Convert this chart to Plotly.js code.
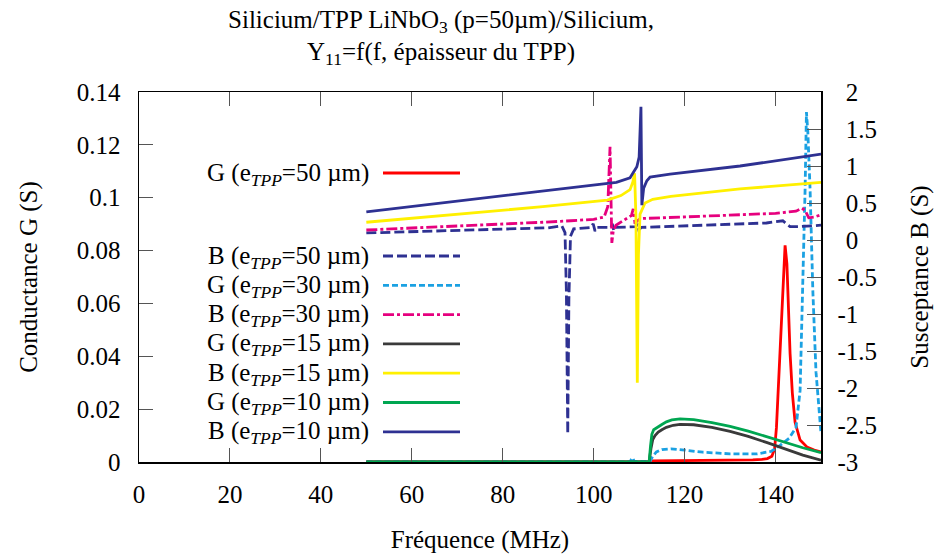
<!DOCTYPE html>
<html><head><meta charset="utf-8">
<script src="https://cdn.plot.ly/plotly-3.0.1.min.js"></script>
<style>html,body{margin:0;padding:0;background:#fff}#chart{width:941px;height:554px}</style>
</head><body><div id="chart"></div>
<script>
// ---------- data ----------
const f_G50 = [50, 112, 112.6, 120, 130, 135, 137, 138.2, 139.2, 139.8, 140.2, 140.6, 141.0, 141.5, 141.8, 142.1, 142.5, 142.9, 143.2, 143.7, 144.3, 145.4, 146.9, 148.5, 150];
const G50   = [0, 0, 0.0004, 0.0005, 0.0006, 0.0008, 0.0010, 0.0013, 0.0022, 0.0050, 0.013, 0.027, 0.041, 0.060, 0.073, 0.082, 0.075, 0.055, 0.041, 0.026, 0.015, 0.0083, 0.0057, 0.0045, 0.0038];

const f_B50 = [50, 70, 90, 93.0, 93.7, 94.0, 94.3, 94.55, 94.9, 95.6, 99.5, 99.9, 100.3, 100.8, 103.8, 104.1, 104.4, 104.8, 109.3, 109.6, 109.9, 110.5, 120, 130, 138, 141.6, 142.3, 143.2, 145, 150];
const B50   = [0.095, 0.13, 0.165, 0.19, 0.10, -0.7, -2.62, -0.8, 0.05, 0.15, 0.17, 0.22, 0.12, 0.17, 0.17, 0.22, 0.13, 0.17, 0.18, 0.22, 0.14, 0.17, 0.19, 0.21, 0.23, 0.26, 0.22, 0.18, 0.18, 0.20];

const f_G30 = [50, 108.0, 108.3, 108.6, 108.9, 112.4, 113.0, 113.8, 115, 117, 120, 124, 130, 136, 139, 141, 143, 144.5, 145.4, 146.0, 146.5, 146.8, 147.1, 147.6, 148.2, 148.9, 149.5, 150];
const G30   = [0, 0, 0.0010, 0.0016, 0.0002, 0.0002, 0.0022, 0.0038, 0.0047, 0.0050, 0.0045, 0.0037, 0.0031, 0.0031, 0.0040, 0.0063, 0.0090, 0.0130, 0.027, 0.065, 0.103, 0.1324, 0.125, 0.103, 0.065, 0.034, 0.020, 0.011];

const f_B30 = [50, 70, 88.8, 95, 100, 102.3, 103.1, 103.6, 103.8, 104.0, 104.3, 104.9, 107.5, 108.3, 108.7, 109.1, 109.6, 110.3, 115, 130, 140, 144.5, 145.8, 146.5, 147.3, 148.5, 150];
const B30   = [0.135, 0.185, 0.24, 0.26, 0.28, 0.31, 0.45, 1.26, 0.6, -0.04, 0.12, 0.2, 0.3, 0.33, 0.42, 0.22, 0.26, 0.29, 0.3, 0.33, 0.36, 0.39, 0.43, 0.4, 0.3, 0.31, 0.34];

const f_G15 = [50, 112.2, 112.6, 113.0, 113.5, 114.2, 115, 116, 117.5, 119, 122, 126, 130, 134, 138, 142, 146, 150];
const G15   = [0, 0, 0.005, 0.0085, 0.0100, 0.0113, 0.0122, 0.0131, 0.0139, 0.0142, 0.0141, 0.0131, 0.0116, 0.0097, 0.0074, 0.0049, 0.0026, 0.0007];

const f_B15 = [50, 70, 88.8, 103, 106, 108, 108.6, 109.0, 109.3, 109.6, 109.85, 110.2, 111.3, 113, 117, 132.2, 150];
const B15   = [0.24, 0.35, 0.45, 0.54, 0.6, 0.68, 0.78, 0.9, 0.3, -1.93, -0.2, 0.35, 0.5, 0.55, 0.59, 0.69, 0.78];

const f_G10 = [50, 112.2, 112.5, 112.8, 113.2, 114, 115, 116, 117.2, 119, 122, 126, 130, 134, 138, 142, 146, 150];
const G10   = [0, 0, 0.006, 0.0105, 0.0122, 0.0132, 0.0142, 0.0152, 0.0159, 0.0163, 0.0160, 0.0149, 0.0135, 0.0117, 0.0095, 0.0074, 0.0054, 0.0035];

const f_B10 = [50, 70, 91, 100, 105, 108, 109.5, 110.0, 110.4, 110.6, 111.0, 111.7, 112.4, 116.8, 132.2, 150];
const B10   = [0.38, 0.525, 0.676, 0.74, 0.78, 0.84, 0.99, 1.12, 1.80, 0.47, 0.7, 0.8, 0.85, 0.89, 1.0, 1.16];

const seriesNames = [
  'G (e<sub><i>TPP</i></sub>=50 µm)', 'B (e<sub><i>TPP</i></sub>=50 µm)',
  'G (e<sub><i>TPP</i></sub>=30 µm)', 'B (e<sub><i>TPP</i></sub>=30 µm)',
  'G (e<sub><i>TPP</i></sub>=15 µm)', 'B (e<sub><i>TPP</i></sub>=15 µm)',
  'G (e<sub><i>TPP</i></sub>=10 µm)', 'B (e<sub><i>TPP</i></sub>=10 µm)'
];
const seriesX = [f_G50, f_B50, f_G30, f_B30, f_G15, f_B15, f_G10, f_B10];
const seriesY = [G50, B50, G30, B30, G15, B15, G10, B10];
const seriesAxis = ['y', 'y2', 'y', 'y2', 'y', 'y2', 'y', 'y2'];

const xTickVals = [0, 20, 40, 60, 80, 100, 120, 140];
const gTickVals = [0, 0.02, 0.04, 0.06, 0.08, 0.1, 0.12, 0.14];
const gTickText = ['0', '0.02', '0.04', '0.06', '0.08', '0.1', '0.12', '0.14'];
const bTickVals = [-3, -2.5, -2, -1.5, -1, -0.5, 0, 0.5, 1, 1.5, 2];
const bTickText = ['-3', '-2.5', '-2', '-1.5', '-1', '-0.5', '\u20040', '\u20040.5', '\u20041', '\u20041.5', '\u20042'];

// ---------- styles ----------
const colors = ['#FF0000', '#2E3192', '#1BA1E2', '#E6007E', '#3A3A3A', '#FFF000', '#00A651', '#2E3192'];
const dashes = ['solid', '10px,4px', '6px,3px', '11px,3px,3px,3px', 'solid', 'solid', 'solid', 'solid'];
const LW = 2.8;
const FONT = "'Liberation Serif', 'DejaVu Serif', serif";
const FS = 25;

const traces = seriesX.map((xs, i) => ({
  type: 'scatter', mode: 'lines', x: xs, y: seriesY[i], yaxis: seriesAxis[i],
  name: seriesNames[i], line: {color: colors[i], width: LW, dash: dashes[i]},
  hoverinfo: 'skip', showlegend: false
}));

// ---------- gnuplot-style key (text right-aligned, sample on the right) ----------
const plotTop = 92, plotBot = 462, plotL = 139, plotR = 821;
const toPY = py => (plotBot - py) / (plotBot - plotTop);
const toPX = px => (px - plotL) / (plotR - plotL);
const keyRows = [173, 256, 285.3, 314.6, 343.9, 373.2, 402.5, 431.8];
const shapes = [], annotations = [];
keyRows.forEach((py, i) => {
  shapes.push({type: 'line', xref: 'paper', yref: 'paper', x0: toPX(383), x1: toPX(460), y0: toPY(py), y1: toPY(py),
    line: {color: colors[i], width: LW, dash: dashes[i]}});
  annotations.push({xref: 'paper', yref: 'paper', x: toPX(371), y: toPY(py + 1), xanchor: 'right', yanchor: 'middle',
    text: seriesNames[i], showarrow: false, font: {family: FONT, size: FS, color: '#000'}});
});

const axisCommon = {
  showgrid: false, zeroline: false, showline: true, linecolor: '#000', linewidth: 1.5,
  ticks: 'inside', ticklen: 14, tickwidth: 1, tickcolor: '#555',
  tickfont: {family: FONT, size: FS, color: '#000'}
};

const layout = {
  width: 941, height: 554,
  margin: {l: 139, r: 120, t: 92, b: 92, pad: 0},
  paper_bgcolor: '#fff', plot_bgcolor: '#fff',
  showlegend: false,
  font: {family: FONT, size: FS, color: '#000'},
  title: {
    text: 'Silicium/TPP LiNbO<sub>3</sub> (p=50µm)/Silicium,<br>Y<sub>11</sub>=f(f, épaisseur du TPP)\u2003\u2002',
    xref: 'container', x: 0.4687, xanchor: 'center',
    yref: 'container', y: 0.95, yanchor: 'top',
    font: {family: FONT, size: FS, color: '#000'}
  },
  xaxis: Object.assign({}, axisCommon, {
    range: [0, 150], tickmode: 'array', tickvals: xTickVals, mirror: 'ticks',
    ticklabelstandoff: 9,
    title: {text: 'Fréquence (MHz)', standoff: 24, font: {family: FONT, size: FS}}
  }),
  yaxis: Object.assign({}, axisCommon, {
    range: [0, 0.14], tickmode: 'array', tickvals: gTickVals, ticktext: gTickText, mirror: true,
    ticklabelstandoff: 12,
    title: {text: 'Conductance G (S)', standoff: 32, font: {family: FONT, size: FS}}
  }),
  yaxis2: Object.assign({}, axisCommon, {
    range: [-3, 2], tickmode: 'array', tickvals: bTickVals, ticktext: bTickText,
    overlaying: 'y', side: 'right', ticklabelstandoff: 10,
    title: {text: 'Susceptance B (S)', standoff: 34, font: {family: FONT, size: FS}}
  }),
  shapes: shapes,
  annotations: annotations
};

Plotly.newPlot('chart', traces, layout, {staticPlot: true, displayModeBar: false});
</script></body></html>
